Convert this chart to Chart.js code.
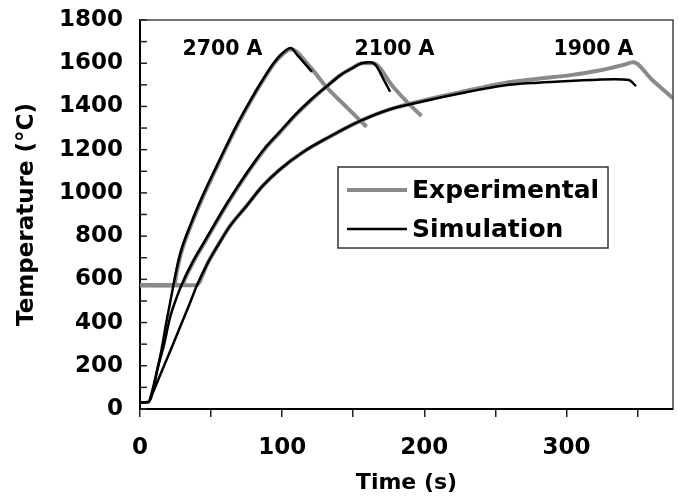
<!DOCTYPE html>
<html lang="en">
<head>
<meta charset="UTF-8">
<title>Temperature vs time</title>
<script src="https://cdn.jsdelivr.net/npm/chart.js"></script>
<style>
  html, body { margin: 0; padding: 0; background: #fff; }
  #wrap { width: 678px; height: 500px; position: relative; }
</style>
</head>
<body>
<div id="wrap"><canvas id="tempChart"></canvas></div>
<script>
  // simulation curves (s, °C)
  const sim2700Time = [0, 6, 8, 11, 15, 18.5, 22, 25.5, 29, 36, 43, 50, 58, 67, 77, 86, 94, 100, 106, 111, 116, 121];
  const sim2700Temp = [30, 32, 70, 150, 270, 400, 520, 640, 735, 860, 970, 1070, 1180, 1300, 1420, 1520, 1600, 1645, 1670, 1635, 1598, 1560];

  const sim2100Time = [0, 6, 9, 12.5, 17, 21, 26, 31, 37, 44, 52, 62, 75, 87, 98, 109, 120, 131, 141, 150, 156, 162, 166, 171, 176];
  const sim2100Temp = [30, 32, 80, 190, 300, 420, 520, 600, 680, 760, 850, 960, 1091, 1200, 1280, 1360, 1430, 1491, 1545, 1580, 1600, 1605, 1590, 1530, 1468];

  const sim1900Time = [0, 6, 9, 15, 21.5, 29.5, 35, 40, 48, 56, 63, 75, 86, 98, 115, 134, 155, 175, 198, 225, 256, 280, 303, 334, 344, 349];
  const sim1900Temp = [30, 32, 75, 170, 272, 400, 488, 572, 680, 770, 844, 940, 1030, 1106, 1190, 1262, 1333, 1385, 1422, 1460, 1497, 1510, 1518, 1526, 1522, 1494];

  // experimental curves (pyrometer floor at ~573 °C)
  const exp2700Time = [0, 24, 26, 29.5, 36.5, 43.5, 50.5, 58.5, 67.5, 77.5, 86.5, 94.5, 100.5, 106, 119.5, 131, 145, 159.4];
  const exp2700Temp = [573, 573, 640, 735, 860, 970, 1070, 1180, 1300, 1420, 1520, 1600, 1642, 1665, 1584, 1491, 1399, 1306];

  const exp2100Time = [0, 30, 31.5, 37.5, 44.5, 52.5, 62.5, 75.5, 87.5, 98.5, 109.5, 120.5, 131, 141, 150, 156, 164, 178, 188, 198];
  const exp2100Temp = [573, 573, 600, 680, 760, 850, 960, 1091, 1200, 1280, 1360, 1430, 1491, 1545, 1580, 1600, 1600, 1491, 1420, 1356];

  const exp1900Time = [0, 39.5, 48, 56, 63, 75, 86, 98, 115, 134, 155, 175, 198, 225, 256, 280, 303, 322, 340, 347, 360, 375];
  const exp1900Temp = [573, 573, 680, 770, 844, 940, 1030, 1106, 1190, 1262, 1333, 1385, 1425, 1465, 1508, 1528, 1545, 1565, 1592, 1604, 1525, 1438];

  const seriesNames = ['Experimental', 'Simulation'];
  const currentLabels = ['2700 A', '2100 A', '1900 A'];
  const currentLabelTime = [58, 179, 319];
  const currentLabelTemp = [1638, 1638, 1638];

  const FONT = "'DejaVu Sans', sans-serif";
  const GREY = '#8a8a8a';
  const BLACK = '#000000';

  function pts(xs, ys) {
    return xs.map((x, i) => ({ x: x, y: ys[i] }));
  }

  function simSet(xs, ys) {
    return { label: seriesNames[1], data: pts(xs, ys), borderColor: BLACK, borderWidth: 2.5,
             pointRadius: 0, cubicInterpolationMode: 'monotone', fill: false };
  }
  function expSet(xs, ys) {
    return { label: seriesNames[0], data: pts(xs, ys), borderColor: GREY, borderWidth: 4,
             pointRadius: 0, cubicInterpolationMode: 'monotone', fill: false };
  }

  // frame, inner y ticks, current labels and boxed legend
  const extras = {
    id: 'extras',
    afterDatasetsDraw(chart) {
      const { ctx, chartArea: a, scales: { x, y } } = chart;
      ctx.save();

      // top + right edges of frame
      ctx.strokeStyle = '#444';
      ctx.lineWidth = 1.5;
      ctx.beginPath();
      ctx.moveTo(a.left, a.top);
      ctx.lineTo(a.right, a.top);
      ctx.lineTo(a.right, a.bottom);
      ctx.stroke();

      // y ticks pointing into the plot
      ctx.strokeStyle = '#222';
      ctx.lineWidth = 1.5;
      y.ticks.forEach(t => {
        const py = y.getPixelForValue(t.value);
        ctx.beginPath();
        ctx.moveTo(a.left, py);
        ctx.lineTo(a.left + 7, py);
        ctx.stroke();
      });

      // current labels
      ctx.fillStyle = '#000';
      ctx.font = 'bold 20.5px ' + FONT;
      ctx.textAlign = 'center';
      ctx.textBaseline = 'alphabetic';
      currentLabels.forEach((txt, i) => {
        ctx.fillText(txt, x.getPixelForValue(currentLabelTime[i]), y.getPixelForValue(currentLabelTemp[i]));
      });

      // legend box
      const lx = a.left + 198, ly = a.top + 147, lw = 270, lh = 81;
      ctx.fillStyle = '#fff';
      ctx.fillRect(lx, ly, lw, lh);
      ctx.strokeStyle = '#333';
      ctx.lineWidth = 1.5;
      ctx.strokeRect(lx, ly, lw, lh);
      const entries = [chart.data.datasets[3], chart.data.datasets[0]];
      ctx.font = 'bold 25px ' + FONT;
      ctx.textAlign = 'left';
      ctx.textBaseline = 'middle';
      entries.forEach((ds, i) => {
        const ry = ly + 23 + i * 39;
        ctx.strokeStyle = ds.borderColor;
        ctx.lineWidth = ds.borderWidth;
        ctx.beginPath();
        ctx.moveTo(lx + 9, ry);
        ctx.lineTo(lx + 69, ry);
        ctx.stroke();
        ctx.fillStyle = '#000';
        ctx.fillText(ds.label, lx + 74, ry + 1);
      });

      ctx.restore();
    }
  };

  new Chart(document.getElementById('tempChart'), {
    type: 'line',
    data: {
      datasets: [
        simSet(sim2700Time, sim2700Temp),
        simSet(sim2100Time, sim2100Temp),
        simSet(sim1900Time, sim1900Temp),
        expSet(exp2700Time, exp2700Temp),
        expSet(exp2100Time, exp2100Temp),
        expSet(exp1900Time, exp1900Temp)
      ]
    },
    options: {
      responsive: true,
      maintainAspectRatio: false,
      animation: false,
      layout: { padding: { top: 20, right: 5, left: 0, bottom: 0 } },
      plugins: { legend: { display: false }, tooltip: { enabled: false } },
      scales: {
        x: {
          type: 'linear',
          min: 0,
          max: 375,
          afterFit: s => { s.height = 91; s.paddingRight = 0; },
          grid: { drawOnChartArea: false, drawTicks: true, tickLength: 8, color: '#222', lineWidth: 1.5 },
          border: { display: true, color: '#000', width: 2 },
          ticks: {
            stepSize: 50,
            includeBounds: false,
            autoSkip: false,
            maxRotation: 0,
            padding: 17,
            color: '#000',
            font: { family: FONT, size: 23, weight: 'bold' },
            callback: v => (v % 100 === 0 ? v : '')
          },
          title: {
            display: true,
            text: 'Time (s)',
            color: '#000',
            font: { family: FONT, size: 22, weight: 'bold' },
            padding: { top: 0, bottom: 4 }
          }
        },
        y: {
          min: 0,
          max: 1800,
          afterFit: s => { s.width = 140; s.paddingTop = 0; s.paddingBottom = 0; },
          grid: { drawOnChartArea: false, drawTicks: false },
          border: { display: true, color: '#000', width: 2 },
          ticks: {
            stepSize: 100,
            autoSkip: false,
            padding: 17,
            color: '#000',
            font: { family: FONT, size: 23, weight: 'bold' },
            callback: v => (v % 200 === 0 ? v : '')
          },
          title: {
            display: true,
            text: 'Temperature (°C)',
            color: '#000',
            font: { family: FONT, size: 23, weight: 'bold' },
            padding: { top: 13, bottom: 0 }
          }
        }
      }
    },
    plugins: [extras]
  });
</script>
</body>
</html>
